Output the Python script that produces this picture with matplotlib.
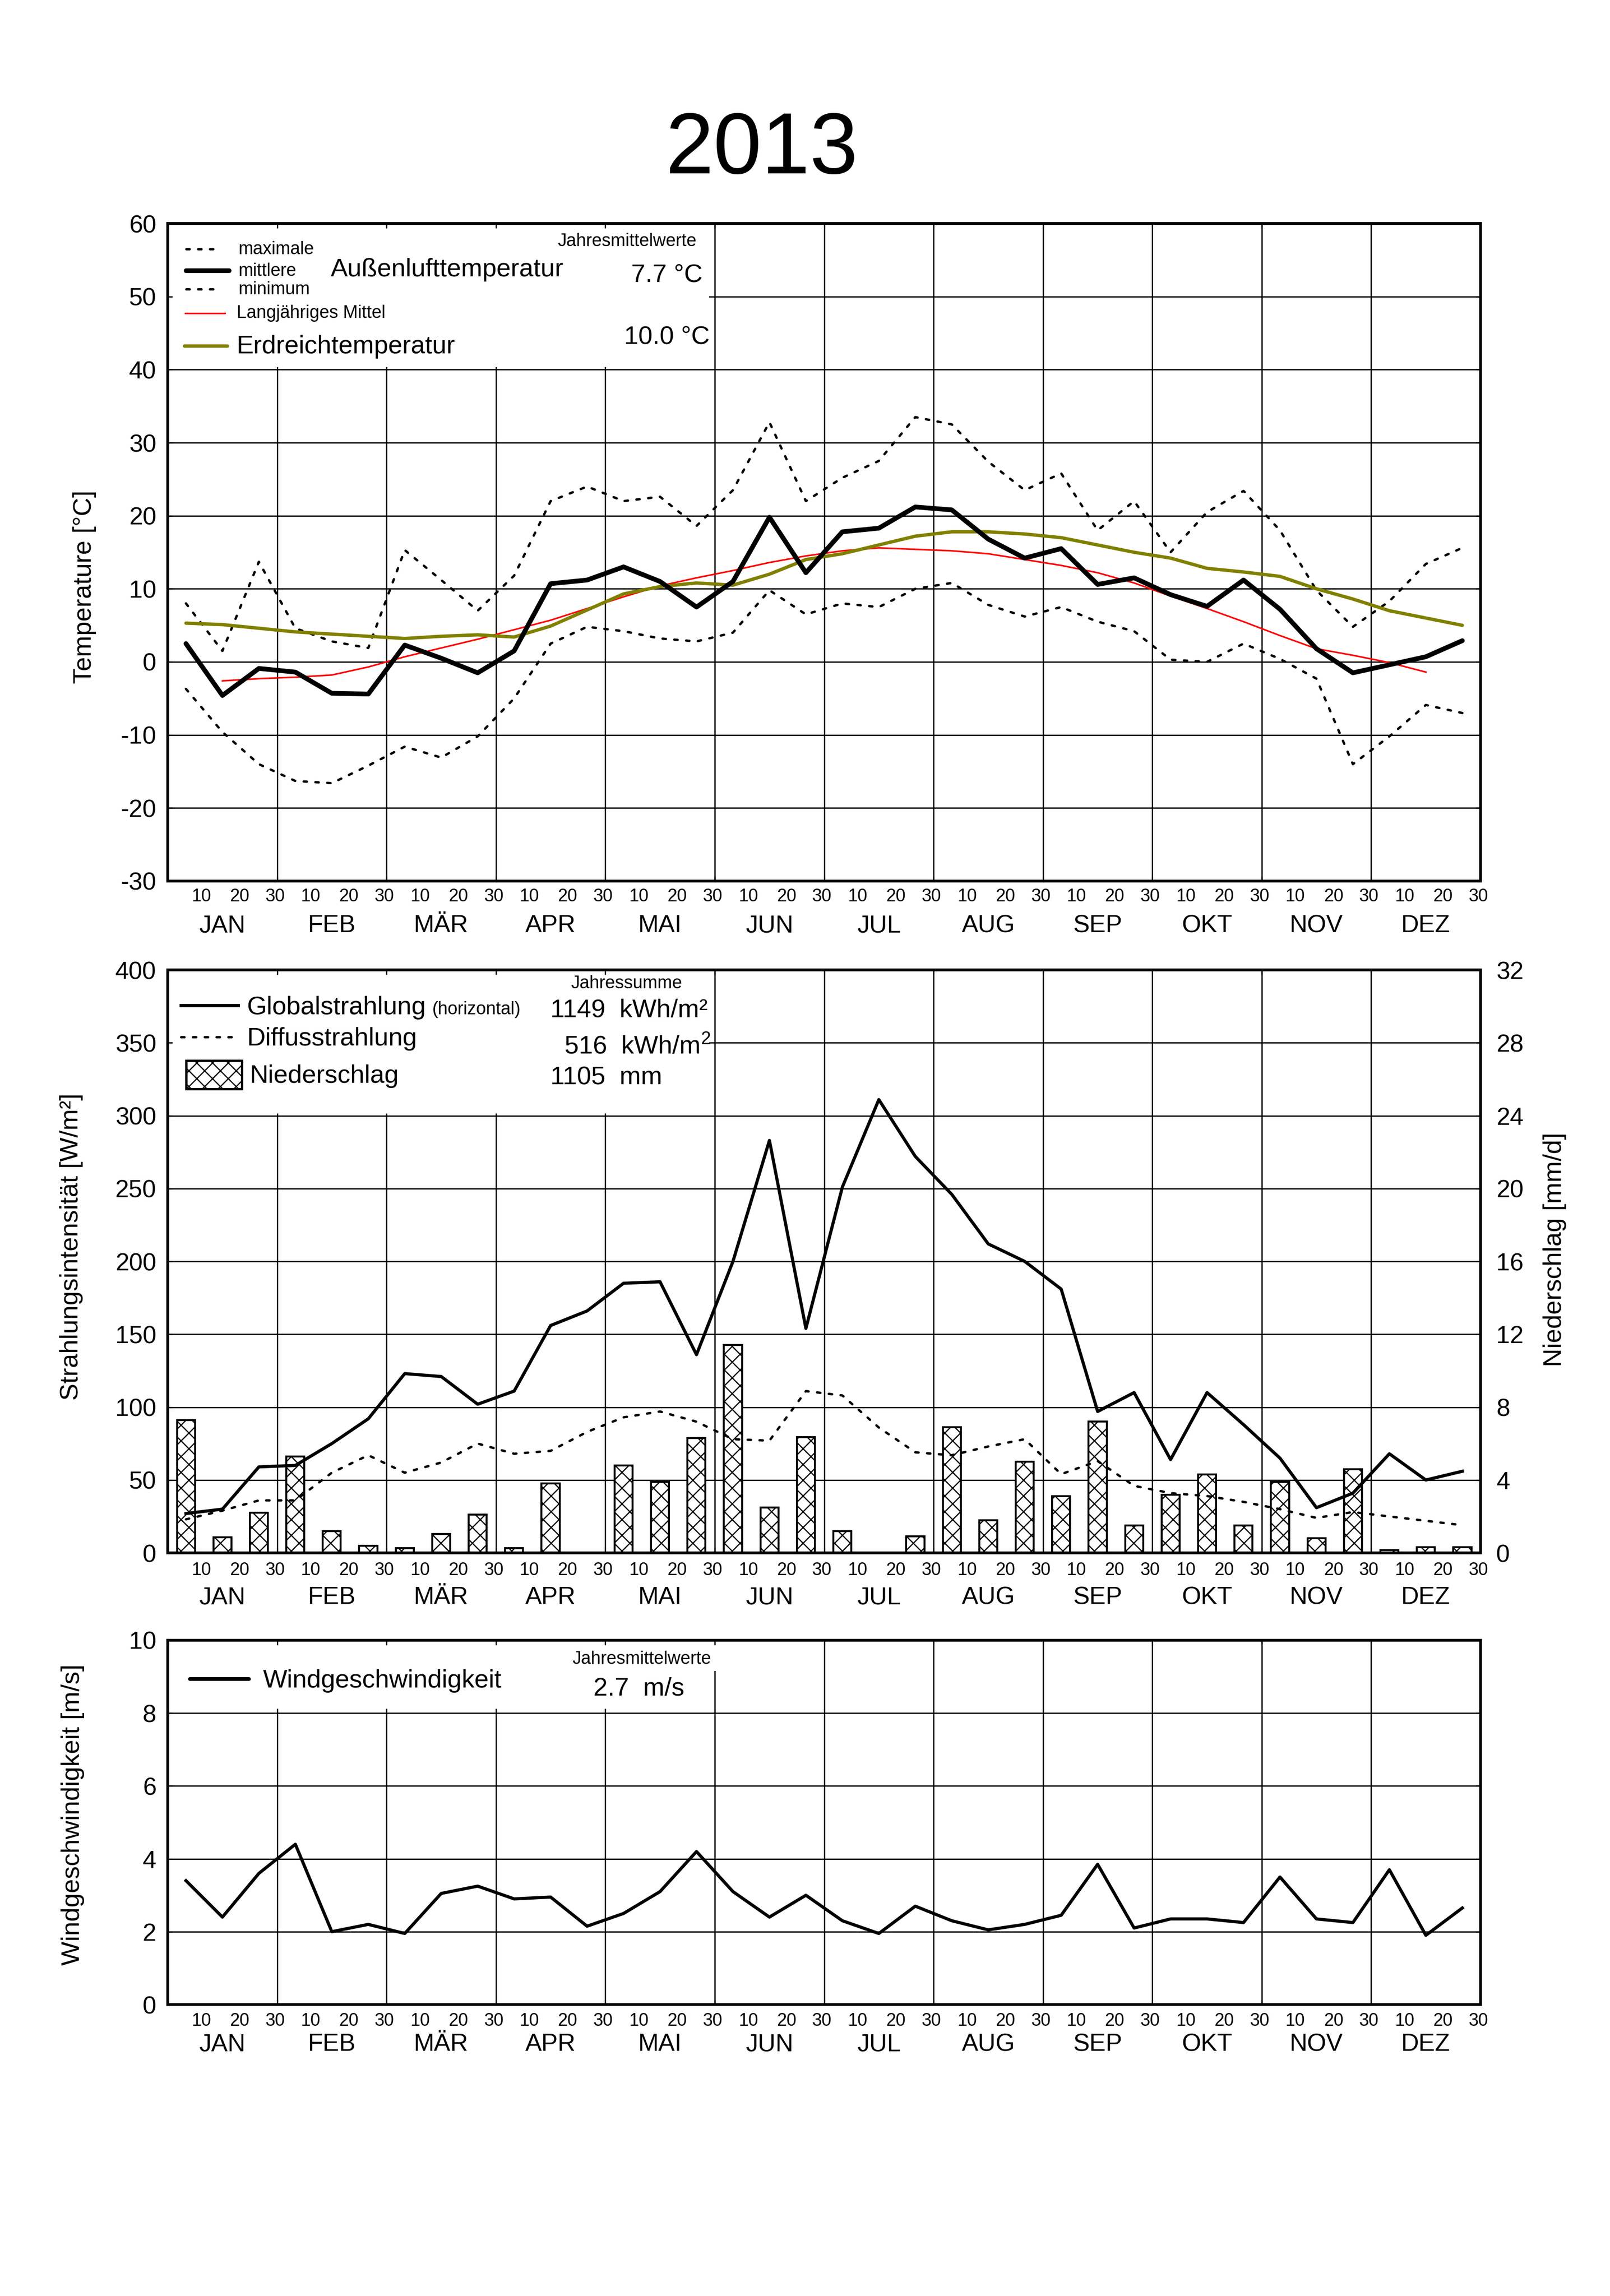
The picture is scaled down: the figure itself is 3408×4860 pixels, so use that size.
import numpy as np
import matplotlib
matplotlib.use("Agg")
import matplotlib.pyplot as plt
from matplotlib.patches import Rectangle

plt.rcParams['font.family'] = ['Liberation Sans', 'DejaVu Sans']
plt.rcParams['mathtext.default'] = 'regular'
plt.rcParams['axes.unicode_minus'] = False
plt.rcParams['hatch.linewidth'] = 0.6
plt.rcParams['hatch.color'] = 'black'

# ---------------- data ----------------
months = ['JAN', 'FEB', 'MÄR', 'APR', 'MAI', 'JUN', 'JUL', 'AUG', 'SEP', 'OKT', 'NOV', 'DEZ']
day_ticks = ['10', '20', '30']

t_max = [8.0, 1.5, 13.7, 4.6, 2.8, 1.9, 15.3, 11.2, 7.0, 11.8, 22.0, 24.0,
         22.0, 22.6, 18.6, 23.5, 32.8, 22.0, 25.2, 27.5, 33.5, 32.5, 27.4, 23.5,
         25.8, 18.0, 22.0, 15.0, 20.5, 23.4, 18.0, 9.8, 4.8, 8.3, 13.4, 15.6]
t_mean = [2.5, -4.6, -0.9, -1.4, -4.3, -4.4, 2.3, 0.5, -1.5, 1.5, 10.7, 11.2,
          13.0, 11.0, 7.5, 11.0, 19.8, 12.2, 17.8, 18.3, 21.2, 20.8, 16.8, 14.2,
          15.5, 10.6, 11.5, 9.2, 7.6, 11.2, 7.2, 1.8, -1.5, -0.4, 0.7, 2.9]
t_min = [-3.7, -9.6, -14.0, -16.3, -16.6, -14.2, -11.6, -13.1, -10.2, -5.0, 2.5, 4.8,
         4.2, 3.2, 2.8, 4.0, 9.8, 6.5, 8.0, 7.5, 10.0, 10.8, 7.8, 6.2,
         7.5, 5.5, 4.2, 0.3, 0.0, 2.5, 0.4, -2.3, -14.0, -10.2, -5.9, -7.0]
# long-term mean: 2nd to 35th decade
t_longterm = [-2.6, -2.3, -2.1, -1.8, -0.7, 0.7, 1.9, 3.1, 4.4, 5.7, 7.3, 8.9,
              10.4, 11.5, 12.5, 13.6, 14.5, 15.2, 15.6, 15.4, 15.2, 14.8, 14.0, 13.2,
              12.2, 10.8, 9.0, 7.3, 5.5, 3.6, 1.8, 0.9, -0.1, -1.4]
t_ground = [5.3, 5.1, 4.6, 4.1, 3.8, 3.5, 3.2, 3.5, 3.7, 3.4, 4.9, 7.1,
            9.3, 10.3, 10.8, 10.5, 12.0, 14.0, 14.8, 16.0, 17.2, 17.8, 17.8, 17.5,
            17.0, 16.0, 15.0, 14.2, 12.8, 12.3, 11.7, 10.0, 8.6, 7.0, 6.0, 5.0]

glob_rad = [27, 30, 59, 60, 75, 92, 123, 121, 102, 111, 156, 166,
            185, 186, 136, 200, 283, 154, 251, 311, 272, 246, 212, 200,
            181, 97, 110, 64, 110, 88, 65, 31, 41, 68, 50, 56]
diff_rad = [23, 29, 36, 36, 55, 67, 55, 62, 75, 68, 70, 83,
            93, 97, 90, 78, 77, 111, 108, 86, 69, 67, 73, 78,
            54, 63, 46, 41, 39, 35, 30, 24, 28, 25, 22, 19]
precip = [7.3, 0.85, 2.2, 5.3, 1.2, 0.4, 0.25, 1.05, 2.1, 0.25, 3.8, 0.0,
          4.8, 3.9, 6.3, 11.4, 2.5, 6.35, 1.2, 0.0, 0.9, 6.9, 1.8, 5.0,
          3.1, 7.2, 1.5, 3.2, 4.3, 1.5, 3.9, 0.8, 4.6, 0.15, 0.3, 0.3]
wind = [3.4, 2.4, 3.6, 4.4, 2.0, 2.2, 1.95, 3.05, 3.25, 2.9, 2.95, 2.15,
        2.5, 3.1, 4.2, 3.1, 2.4, 3.0, 2.3, 1.95, 2.7, 2.3, 2.05, 2.2,
        2.45, 3.85, 2.1, 2.35, 2.35, 2.25, 3.5, 2.35, 2.25, 3.7, 1.9, 2.65]

# decade centres in month units
x = (np.arange(36) + 0.5) / 3.0

# ---------------- style ----------------
GRID_LW = 0.65
SPINE_LW = 1.4
BIG = 13
SMALL = 9
HATCH = 'xxx'
day_pos = [0.305, 0.655, 0.98]

fig = plt.figure(figsize=(11.36, 16.2), dpi=300)
L, W = 0.10417, 0.81543
axT = fig.add_axes([L, 0.61626, W, 0.28641])
axM = fig.add_axes([L, 0.32366, W, 0.25391])
axW = fig.add_axes([L, 0.12695, W, 0.15865])
axR = axM.twinx()
axR.set_zorder(1)
axM.set_zorder(2)
axM.patch.set_visible(False)


def setup(ax, ylim, yticks, day_pad, month_off, right=True):
    ax.set_xlim(0, 12)
    ax.set_ylim(*ylim)
    ax.set_yticks(yticks)
    ax.set_xticks(range(13))
    ax.set_xticklabels([])
    minor = [m + p for m in range(12) for p in day_pos]
    ax.set_xticks(minor, minor=True)
    ax.set_xticklabels(day_ticks * 12, minor=True)
    ax.tick_params(axis='x', which='major', direction='in', length=2.4,
                   width=GRID_LW, top=True, bottom=True)
    ax.tick_params(axis='x', which='minor', length=0, labelsize=SMALL, pad=day_pad)
    ax.tick_params(axis='y', direction='in', length=2.4, width=GRID_LW,
                   labelsize=12.5, pad=5.8, right=right)
    for s in ax.spines.values():
        s.set_linewidth(SPINE_LW)
    for i, m in enumerate(months):
        ax.annotate(m, xy=(i + 0.5, 0), xycoords=('data', 'axes fraction'),
                    xytext=(0, -month_off), textcoords='offset points',
                    ha='center', va='baseline', fontsize=12.5)


def grid(ax, yvals):
    for m in range(1, 12):
        ax.axvline(m, color='k', lw=GRID_LW, zorder=0.5)
    for y in yvals:
        ax.axhline(y, color='k', lw=GRID_LW, zorder=0.5)


# ================= temperature =================
setup(axT, (-30, 60), range(-30, 61, 10), 3.5, 26)
grid(axT, range(-20, 60, 10))
axT.add_patch(Rectangle((0, 40.35), 4.95, 19.65, facecolor='white',
                        edgecolor='none', zorder=1))
dash = dict(color='k', lw=1.2, dashes=(1.4, 3.6), dash_capstyle='round')
axT.plot(x, t_max, zorder=3, **dash)
axT.plot(x, t_min, zorder=3, **dash)
axT.plot(x[1:35], t_longterm, color='#ff0000', lw=0.8, zorder=3)
axT.plot(x, t_ground, color='#808000', lw=1.7, zorder=3, solid_capstyle='round')
axT.plot(x, t_mean, color='k', lw=2.4, zorder=4, solid_capstyle='round')

tA = axT.transAxes
axT.plot([0.0139, 0.0399], [0.9612, 0.9612], transform=tA, zorder=5, **dash)
axT.plot([0.0139, 0.0468], [0.9282, 0.9282], transform=tA, color='k', lw=2.4,
         solid_capstyle='round', zorder=5)
axT.plot([0.0139, 0.0399], [0.9001, 0.9001], transform=tA, zorder=5, **dash)
axT.plot([0.0133, 0.0435], [0.8635, 0.8635], transform=tA, color='#ff0000', lw=0.8, zorder=5)
axT.plot([0.0126, 0.0455], [0.8139, 0.8139], transform=tA, color='#808000', lw=1.7,
         solid_capstyle='round', zorder=5)
axT.text(0.0538, 0.9533, 'maximale', transform=tA, fontsize=SMALL, va='baseline', zorder=5)
axT.text(0.0538, 0.9203, 'mittlere', transform=tA, fontsize=SMALL, va='baseline', zorder=5)
axT.text(0.0538, 0.8922, 'minimum', transform=tA, fontsize=SMALL, va='baseline', zorder=5)
axT.text(0.1241, 0.9195, 'Außenlufttemperatur', transform=tA, fontsize=BIG, va='baseline', zorder=5)
axT.text(0.0524, 0.8563, 'Langjähriges Mittel', transform=tA, fontsize=SMALL, va='baseline', zorder=5)
axT.text(0.0524, 0.8024, 'Erdreichtemperatur', transform=tA, fontsize=BIG, va='baseline', zorder=5)
axT.text(0.3498, 0.9655, 'Jahresmittelwerte', transform=tA, fontsize=SMALL, ha='center',
         va='baseline', zorder=5)
axT.text(0.4073, 0.9116, '7.7 °C', transform=tA, fontsize=BIG, ha='right', va='baseline', zorder=5)
axT.text(0.4127, 0.8175, '10.0 °C', transform=tA, fontsize=BIG, ha='right', va='baseline', zorder=5)

# ================= radiation / precipitation =================
setup(axM, (0, 400), range(0, 401, 50), 4.5, 26, right=False)
axR.set_ylim(0, 32)
axR.set_yticks(range(0, 33, 4))
axR.tick_params(axis='y', direction='in', length=2.4, width=GRID_LW,
                labelsize=12.5, pad=8)
for s in axR.spines.values():
    s.set_linewidth(SPINE_LW)
grid(axR, range(4, 32, 4))
axR.bar(x, precip, width=0.165, facecolor='white', edgecolor='k', lw=1.0,
        hatch=HATCH, zorder=2)
axM.add_patch(Rectangle((0, 301.6), 4.95, 98.4, facecolor='white',
                        edgecolor='none', zorder=1))
axM.plot(x, glob_rad, color='k', lw=1.6, zorder=3)
axM.plot(x, diff_rad, zorder=3, **dash)

mA = axM.transAxes
axM.plot([0.0101, 0.0536], [0.9392, 0.9392], transform=mA, color='k', lw=1.6, zorder=5)
axM.plot([0.0101, 0.0536], [0.8849, 0.8849], transform=mA, zorder=5, **dash)
axM.add_patch(Rectangle((0.0140, 0.7958), 0.0425, 0.0486, transform=mA, facecolor='white',
                        edgecolor='k', lw=1.2, hatch=HATCH, zorder=5))
axM.text(0.0601, 0.9238, 'Globalstrahlung', transform=mA, fontsize=BIG, va='baseline', zorder=5)
axM.text(0.2015, 0.9238, '(horizontal)', transform=mA, fontsize=SMALL, va='baseline', zorder=5)
axM.text(0.0601, 0.8703, 'Diffusstrahlung', transform=mA, fontsize=BIG, va='baseline', zorder=5)
axM.text(0.0626, 0.8063, 'Niederschlag', transform=mA, fontsize=BIG, va='baseline', zorder=5)
axM.text(0.3494, 0.9684, 'Jahressumme', transform=mA, fontsize=SMALL, ha='center',
         va='baseline', zorder=5)
axM.text(0.2915, 0.9190, '1149  kWh/m²', transform=mA, fontsize=BIG, va='baseline', zorder=5)
axM.text(0.3019, 0.8566, '516  kWh/m$^{2}$', transform=mA, fontsize=BIG, va='baseline', zorder=5)
axM.text(0.2915, 0.8031, '1105  mm', transform=mA, fontsize=BIG, va='baseline', zorder=5)

# ================= wind =================
setup(axW, (0, 10), range(0, 11, 2), 4.0, 23.6)
grid(axW, range(2, 10, 2))
axW.add_patch(Rectangle((0, 8.12), 4.95, 1.88, facecolor='white',
                        edgecolor='none', zorder=1))
axW.add_patch(Rectangle((4.85, 9.16), 0.3, 0.84, facecolor='white',
                        edgecolor='none', zorder=1))
axW.plot(x, wind, color='k', lw=1.6, zorder=3)
wA = axW.transAxes
axW.plot([0.0169, 0.0619], [0.8936, 0.8936], transform=wA, color='k', lw=1.9,
         solid_capstyle='round', zorder=5)
axW.text(0.0727, 0.8703, 'Windgeschwindigkeit', transform=wA, fontsize=BIG, va='baseline', zorder=5)
axW.text(0.3609, 0.9351, 'Jahresmittelwerte', transform=wA, fontsize=SMALL, ha='center',
         va='baseline', zorder=5)
axW.text(0.3242, 0.8483, '2.7  m/s', transform=wA, fontsize=BIG, va='baseline', zorder=5)

# ================= labels / title =================
fig.text(0.4733, 0.9342, '2013', fontsize=44, ha='center', va='center')
fig.text(0.0526, 0.7444, 'Temperature [°C]', fontsize=BIG, rotation=90, ha='center', va='center')
fig.text(0.0444, 0.4570, 'Strahlungsintensität [W/m²]', fontsize=BIG, rotation=90,
         ha='center', va='center')
fig.text(0.9656, 0.4557, 'Niederschlag [mm/d]', fontsize=BIG, rotation=90, ha='center', va='center')
fig.text(0.0453, 0.2097, 'Windgeschwindigkeit [m/s]', fontsize=BIG, rotation=90,
         ha='center', va='center')

fig.savefig('out.png', dpi=300, facecolor='white')
